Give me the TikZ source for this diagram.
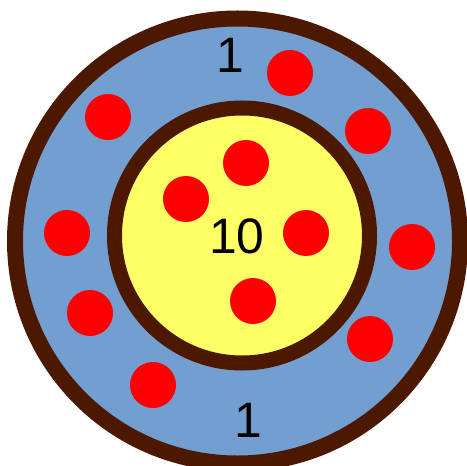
\documentclass[tikz,border=0pt]{standalone}
\usepackage{fontspec}
\setmainfont{Liberation Sans}
\newfontfamily\arialike{Liberation Sans}
\usetikzlibrary{positioning}

\definecolor{ringbrown}{RGB}{76,25,0}
\definecolor{outerblue}{RGB}{114,159,207}
\definecolor{coreyellow}{RGB}{255,255,102}

\begin{document}
\begin{tikzpicture}[x=1bp, y=-1bp,
    ring/.style={circle, draw=ringbrown, inner sep=0pt},
    particle/.style={circle, fill=red, minimum size=46bp, inner sep=0pt},
    count_text/.style={font=\arialike\fontsize{50}{50}\selectfont, inner sep=0pt}
]
\useasboundingbox (0,0) rectangle (467,466);
\clip (0,0) rectangle (467,466);

% --- Rings ---
\node[ring, line width=16bp, fill=outerblue, minimum size=445bp] (Outer) at (237.5,241) {};
\node[ring, line width=15bp, fill=coreyellow, minimum size=255bp] (Core) at (242,235.5) {};

% --- Particles in the outer zone ---
\foreach \i/\x/\y in {1/290/73, 2/108/117, 3/368/131, 4/67/233, 5/412/247,
                      6/90/313, 7/370/339, 8/153/385} {
    \node[particle] (P\i) at (\x,\y) {};
}

% --- Particles in the core ---
\foreach \i/\x/\y in {1/246/163, 2/186/199, 3/306/233, 4/253/301} {
    \node[particle] (C\i) at (\x,\y) {};
}

% Counts
\node[count_text] (TopCount) at (230,55) {1};
\node[count_text] (CoreCount) at (237,236) {10};
\node[count_text] (BottomCount) at (248,420) {1};

\end{tikzpicture}
\end{document}
